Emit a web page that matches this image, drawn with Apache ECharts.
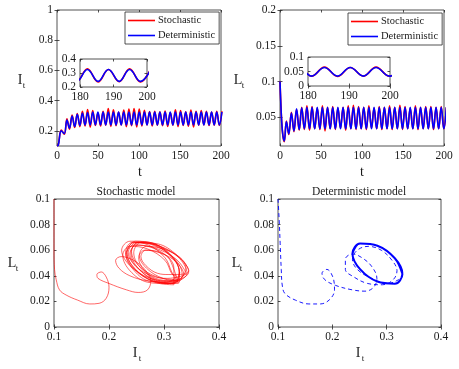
<!DOCTYPE html>
<html><head><meta charset="utf-8">
<script src="https://cdn.jsdelivr.net/npm/echarts@6/dist/echarts.min.js"></script>
<style>html,body{margin:0;padding:0;background:#fff}#c{width:459px;height:369px}</style>
</head><body><div id="c"></div>
<script>
// ---------- DATA ----------
const seriesNames = ['Stochastic', 'Deterministic'];
const tTicks = [0, 50, 100, 150, 200];
const iTicks = [0.2, 0.4, 0.6, 0.8, 1];
const lTicks = [0.05, 0.1, 0.15, 0.2];

// I_t time series (extrema samples)
const tI = [0, 1.5, 5.2, 8.9, 12.1, 15.2, 18.4, 21.6, 24.7, 27.9,
  31.0, 34.2, 37.3, 40.5, 43.6, 46.8, 49.9, 53.1, 56.2, 59.4,
  62.5, 65.7, 68.8, 72.0, 75.1, 78.3, 81.4, 84.6, 87.7, 90.9,
  94.0, 97.2, 100.3, 103.5, 106.6, 109.8, 112.9, 116.1, 119.2, 122.4,
  125.5, 128.7, 131.8, 135.0, 138.1, 141.3, 144.4, 147.6, 150.7, 153.9,
  157.0, 160.2, 163.3, 166.5, 169.6, 172.8, 175.9, 179.1, 182.2, 185.4,
  188.5, 191.7, 194.8, 198.0, 201.1];
const iSto = [0.1, 0.106, 0.205, 0.178, 0.28, 0.212, 0.305, 0.222, 0.315, 0.228,
  0.33, 0.232, 0.342, 0.225, 0.335, 0.236, 0.318, 0.232, 0.33, 0.238,
  0.348, 0.23, 0.34, 0.235, 0.325, 0.24, 0.338, 0.228, 0.345, 0.234,
  0.348, 0.226, 0.344, 0.233, 0.336, 0.24, 0.328, 0.232, 0.33, 0.238,
  0.326, 0.235, 0.332, 0.229, 0.322, 0.237, 0.34, 0.228, 0.335, 0.236,
  0.327, 0.231, 0.338, 0.226, 0.33, 0.238, 0.334, 0.24, 0.33, 0.236,
  0.325, 0.238, 0.33, 0.236, 0.33];
const iDet = [0.1, 0.104, 0.2, 0.182, 0.272, 0.218, 0.298, 0.229, 0.31, 0.236,
  0.318, 0.239, 0.322, 0.240, 0.324, 0.240, 0.325, 0.240, 0.325, 0.240,
  0.325, 0.240, 0.325, 0.240, 0.325, 0.240, 0.325, 0.240, 0.325, 0.240,
  0.325, 0.240, 0.325, 0.240, 0.325, 0.240, 0.325, 0.240, 0.325, 0.240,
  0.325, 0.240, 0.325, 0.240, 0.325, 0.240, 0.325, 0.240, 0.325, 0.240,
  0.325, 0.240, 0.325, 0.240, 0.325, 0.240, 0.325, 0.240, 0.325, 0.240,
  0.325, 0.240, 0.325, 0.240, 0.325];

// L_t time series (extrema samples)
const tL = [0, 0.8, 2, 3.5, 5.2, 7.8, 10.7, 13.9, 17.0, 20.2,
  23.4, 26.5, 29.7, 32.8, 36.0, 39.1, 42.3, 45.4, 48.6, 51.7,
  54.9, 58.0, 61.2, 64.3, 67.5, 70.6, 73.8, 76.9, 80.1, 83.2,
  86.4, 89.5, 92.7, 95.8, 99.0, 102.1, 105.3, 108.4, 111.6, 114.7,
  117.9, 121.0, 124.2, 127.3, 130.5, 133.6, 136.8, 139.9, 143.1, 146.2,
  149.4, 152.5, 155.7, 158.8, 162.0, 165.1, 168.3, 171.4, 174.6, 177.7,
  180.9, 184.0, 187.2, 190.3, 193.5, 196.6, 199.8, 202.9];
const lSto = [0.1, 0.076, 0.046, 0.024, 0.016, 0.045, 0.026, 0.057, 0.030, 0.061,
  0.032, 0.064, 0.033, 0.066, 0.032, 0.065, 0.034, 0.063, 0.033, 0.066,
  0.031, 0.064, 0.034, 0.065, 0.033, 0.063, 0.035, 0.064, 0.032, 0.066,
  0.034, 0.067, 0.033, 0.065, 0.034, 0.064, 0.033, 0.066, 0.035, 0.063,
  0.034, 0.065, 0.033, 0.064, 0.034, 0.066, 0.033, 0.064, 0.034, 0.067,
  0.033, 0.065, 0.034, 0.063, 0.034, 0.066, 0.033, 0.064, 0.034, 0.065,
  0.034, 0.065, 0.033, 0.064, 0.034, 0.065, 0.034, 0.064];
const lDet = [0.1, 0.075, 0.045, 0.025, 0.017, 0.044, 0.027, 0.056, 0.031, 0.062,
  0.033, 0.0635, 0.034, 0.064, 0.034, 0.064, 0.034, 0.064, 0.034, 0.064,
  0.034, 0.064, 0.034, 0.064, 0.034, 0.064, 0.034, 0.064, 0.034, 0.064,
  0.034, 0.064, 0.034, 0.064, 0.034, 0.064, 0.034, 0.064, 0.034, 0.064,
  0.034, 0.064, 0.034, 0.064, 0.034, 0.064, 0.034, 0.064, 0.034, 0.064,
  0.034, 0.064, 0.034, 0.064, 0.034, 0.064, 0.034, 0.064, 0.034, 0.064,
  0.034, 0.064, 0.034, 0.064, 0.034, 0.064, 0.034, 0.064];

// Phase portraits [I_t, L_t]
const stoTransient = [[0.1,0.1],[0.1,0.08],[0.1,0.06],[0.101,0.045],[0.104,0.037],[0.11,0.029],
  [0.122,0.025],[0.143,0.021],[0.165,0.018],[0.182,0.0185],[0.195,0.0225],[0.2,0.031],
  [0.195,0.039],[0.186,0.043],[0.178,0.041],[0.18,0.038],[0.2,0.034],[0.232,0.029],
  [0.253,0.027],[0.27,0.029],[0.276,0.036],[0.265,0.045],[0.245,0.052],[0.222,0.055],
  [0.212,0.052],[0.218,0.046],[0.238,0.040],[0.27,0.036],[0.305,0.035],[0.322,0.040]];
const stoLoops = [
  [0.315,0.041],[0.302,0.052],[0.270,0.061],[0.238,0.063],[0.225,0.056],[0.238,0.044],[0.270,0.035],[0.302,0.034],
  [0.342,0.042],[0.325,0.055],[0.287,0.064],[0.250,0.066],[0.235,0.058],[0.252,0.046],[0.288,0.036],[0.326,0.034],
  [0.318,0.045],[0.306,0.055],[0.278,0.062],[0.250,0.064],[0.238,0.057],[0.250,0.047],[0.278,0.040],[0.306,0.038],
  [0.345,0.044],[0.328,0.054],[0.292,0.063],[0.258,0.066],[0.245,0.058],[0.260,0.045],[0.294,0.036],[0.328,0.035],
  [0.327,0.045],[0.312,0.056],[0.275,0.066],[0.238,0.067],[0.223,0.060],[0.238,0.048],[0.275,0.038],[0.312,0.036],
  [0.336,0.041],[0.322,0.051],[0.292,0.058],[0.265,0.060],[0.254,0.054],[0.265,0.044],[0.292,0.037],[0.322,0.036],
  [0.328,0.043],[0.314,0.055],[0.280,0.064],[0.246,0.066],[0.232,0.058],[0.246,0.046],[0.280,0.036],[0.314,0.034],
  [0.340,0.046],[0.324,0.056],[0.288,0.065],[0.254,0.066],[0.241,0.059],[0.254,0.048],[0.288,0.039],[0.322,0.037],
  [0.314,0.043],[0.302,0.054],[0.272,0.064],[0.242,0.066],[0.230,0.058],[0.242,0.046],[0.272,0.036],[0.302,0.035],
  [0.345,0.043],[0.330,0.054],[0.298,0.061],[0.268,0.063],[0.255,0.056],[0.268,0.046],[0.298,0.038],[0.328,0.036],
  [0.333,0.041],[0.318,0.054],[0.283,0.065],[0.248,0.067],[0.233,0.058],[0.248,0.045],[0.283,0.035],[0.318,0.033],
  [0.318,0.046],[0.309,0.054],[0.288,0.059],[0.267,0.060],[0.258,0.055],[0.267,0.048],[0.288,0.042],[0.309,0.041],
  [0.340,0.042],[0.322,0.053],[0.282,0.062],[0.246,0.064],[0.231,0.057],[0.246,0.045],[0.280,0.036],[0.318,0.034],
  [0.328,0.043],[0.315,0.054],[0.284,0.064],[0.253,0.066],[0.240,0.058],[0.253,0.046],[0.284,0.036],[0.315,0.034],
  [0.329,0.043]];
const detTransient = [[0.1,0.1],[0.102,0.085],[0.104,0.065],[0.106,0.045],[0.108,0.032],[0.113,0.026],
  [0.132,0.021],[0.157,0.018],[0.177,0.018],[0.194,0.021],[0.204,0.029],[0.201,0.039],
  [0.19,0.045],[0.181,0.042],[0.186,0.037],[0.206,0.0325],[0.237,0.029],[0.26,0.028],
  [0.276,0.031],[0.282,0.038],[0.273,0.047],[0.255,0.054],[0.237,0.057],[0.224,0.053],
  [0.224,0.045],[0.24,0.039],[0.265,0.034],[0.292,0.033],[0.312,0.037],[0.319,0.044],
  [0.31,0.052],[0.29,0.06],[0.266,0.063],[0.246,0.06],[0.237,0.053],[0.246,0.045],
  [0.272,0.038],[0.3,0.034],[0.322,0.037],[0.329,0.0415]];
const detCycle = [[0.329,0.0415],[0.315,0.0537],[0.283,0.0635],[0.251,0.0652],[0.237,0.0575],
  [0.251,0.0452],[0.283,0.0355],[0.315,0.0338],[0.329,0.0415],[0.315,0.0537],[0.283,0.0635],
  [0.251,0.0652],[0.237,0.0575]];

// ---------- CHART ----------
const FONT = 'Liberation Serif';
const AX = '#262626';
const TXT = '#1a1a1a';
const RED = '#ff0000', BLUE = '#0000ff';

const grids = [
  {left: 57, top: 10, width: 164, height: 136},
  {left: 280, top: 10, width: 164, height: 136},
  {left: 80, top: 59, width: 67, height: 28},
  {left: 308, top: 57, width: 82, height: 29},
  {left: 54, top: 199, width: 165, height: 128},
  {left: 278, top: 199, width: 163, height: 128}
].map(g => Object.assign({show: true, backgroundColor: '#fff', borderColor: AX, borderWidth: 0.8, containLabel: false}, g));

const xAxes = [], yAxes = [];
function tick(custom) {
  const t = {show: true, inside: true, length: 2.5, lineStyle: {color: AX, width: 0.8}};
  if (custom) t.customValues = custom;
  return t;
}
function addX(g, min, max, interval, labelOn, custom) {
  const base = {type: 'value', gridIndex: g, min, max, splitLine: {show: false},
    axisLine: {show: false}};
  if (interval) base.interval = interval;
  const bottom = Object.assign({}, base, {position: 'bottom', axisTick: tick(custom),
    axisLabel: {show: labelOn, fontFamily: FONT, fontSize: 11.5, color: TXT, margin: 4,
      customValues: custom}});
  const top = Object.assign({}, base, {position: 'top', axisTick: tick(custom), axisLabel: {show: false}});
  xAxes.push(bottom, top);
  return xAxes.length - 2;
}
function addY(g, min, max, interval, custom) {
  const base = {type: 'value', gridIndex: g, min, max, splitLine: {show: false},
    axisLine: {show: false}};
  if (interval) base.interval = interval;
  const left = Object.assign({}, base, {position: 'left', axisTick: tick(custom),
    axisLabel: {show: true, fontFamily: FONT, fontSize: 11.5, color: TXT, margin: 4,
      customValues: custom}});
  const right = Object.assign({}, base, {position: 'right', axisTick: tick(custom), axisLabel: {show: false}});
  yAxes.push(left, right);
  return yAxes.length - 2;
}
const x0 = addX(0, 0, 200, 50, true), y0 = addY(0, 0.1, 1, null, iTicks);
const x1 = addX(1, 0, 200, 50, true), y1 = addY(1, 0.01, 0.2, null, lTicks);
const x2 = addX(2, 180, 200, 10, true), y2 = addY(2, 0.2, 0.4, 0.1);
const x3 = addX(3, 180, 200, 10, true), y3 = addY(3, 0, 0.1, 0.05);
const x4 = addX(4, 0.1, 0.4, 0.1, true), y4 = addY(4, 0, 0.1, 0.02);
const x5 = addX(5, 0.1, 0.4, 0.1, true), y5 = addY(5, 0, 0.1, 0.02);

function ts(name, xi, yi, tArr, vArr, color, w) {
  return {type: 'line', name, xAxisIndex: xi, yAxisIndex: yi, showSymbol: false, symbol: 'none',
    smooth: 0.4, data: tArr.map((t, i) => [t, vArr[i]]), lineStyle: {color, width: w}, itemStyle: {color},
    clip: true, animation: false};
}
const series = [
  ts(seriesNames[0], x0, y0, tI, iSto, RED, 1.6),
  ts(seriesNames[1], x0, y0, tI, iDet, BLUE, 1.6),
  ts(seriesNames[0], x1, y1, tL, lSto, RED, 1.6),
  ts(seriesNames[1], x1, y1, tL, lDet, BLUE, 1.6),
  ts(seriesNames[0], x2, y2, tI, iSto, RED, 1.6),
  ts(seriesNames[1], x2, y2, tI, iDet, BLUE, 1.6),
  ts(seriesNames[0], x3, y3, tL, lSto, RED, 1.6),
  ts(seriesNames[1], x3, y3, tL, lDet, BLUE, 1.6),
  {type: 'line', name: 'stoPhase', xAxisIndex: x4, yAxisIndex: y4, symbol: 'none', smooth: 0.375,
    data: stoTransient.concat(stoLoops), lineStyle: {color: RED, width: 0.6}, animation: false},
  {type: 'line', name: 'detTransient', xAxisIndex: x5, yAxisIndex: y5, symbol: 'none', smooth: 0.375,
    data: detTransient, lineStyle: {color: BLUE, width: 0.9, type: [4, 3]}, animation: false},
  {type: 'line', name: 'detCycle', xAxisIndex: x5, yAxisIndex: y5, symbol: 'none', smooth: 0.375,
    data: detCycle, lineStyle: {color: BLUE, width: 2}, animation: false}
];

function legend(left, top) {
  return {data: seriesNames.map(n => ({name: n, icon: 'rect'})), orient: 'vertical', left, top,
    itemWidth: 27, itemHeight: 1.6, itemGap: 4,
    padding: [3, 4, 3, 3], borderColor: AX, borderWidth: 0.8, backgroundColor: '#fff',
    textStyle: {fontFamily: FONT, fontSize: 10.5, color: TXT, padding: [0, 0, 0, -2]},
    selectedMode: false};
}

function txt(x, y, text, size, rot) {
  return {type: 'text', x, y, rotation: rot || 0, z: 100,
    style: {text, font: size + 'px ' + FONT, fill: TXT, align: 'center', verticalAlign: 'middle'}};
}
const graphic = [
  txt(20, 80, 'I', 14), txt(24, 86, 't', 9),
  txt(238, 80, 'L', 14), txt(243, 86, 't', 9),
  txt(140, 172, 't', 14), txt(362, 172, 't', 14),
  txt(12, 263, 'L', 14), txt(17, 269, 't', 9),
  txt(236, 263, 'L', 14), txt(241, 269, 't', 9),
  txt(135, 353, 'I', 14), txt(140, 359, 't', 9),
  txt(358, 353, 'I', 14), txt(363, 359, 't', 9),
  txt(136, 192, 'Stochastic model', 11.5), txt(359, 192, 'Deterministic model', 11.5)
];

const chart = echarts.init(document.getElementById('c'), null, {renderer: 'canvas'});
chart.setOption({
  animation: false,
  grid: grids, xAxis: xAxes, yAxis: yAxes, series,
  legend: [legend(125, 12), legend(348, 13)],
  graphic
});
</script></body></html>
